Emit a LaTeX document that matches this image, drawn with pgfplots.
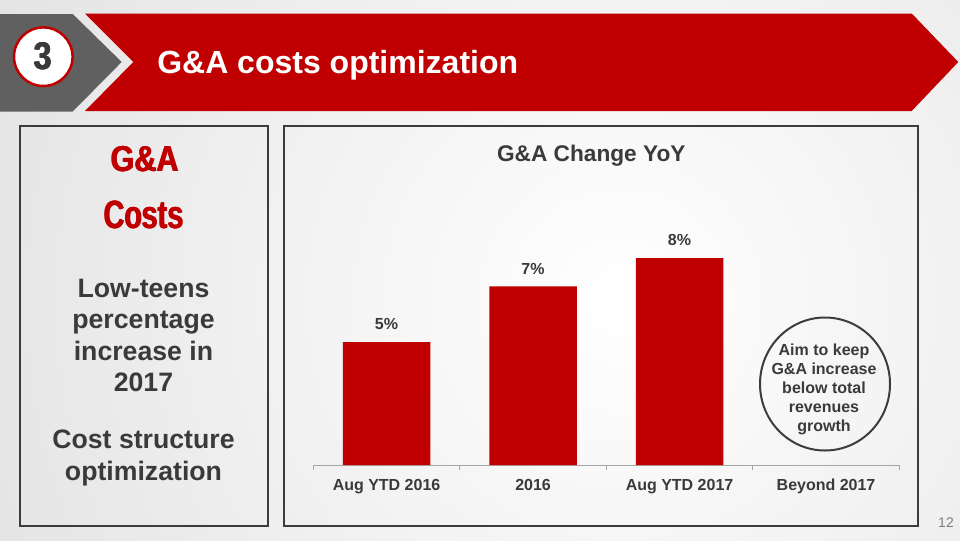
\documentclass[border=0pt]{standalone}
\usepackage{fontspec}
\setmainfont{Liberation Sans}
\usepackage{pgfplots}
\pgfplotsset{compat=1.18}
\definecolor{myred}{HTML}{C00000}
\definecolor{txt}{HTML}{3A3A3A}
\definecolor{chev}{HTML}{606060}
\definecolor{bord}{HTML}{3C3C3C}
\definecolor{axg}{HTML}{A6A6A6}
\definecolor{pgnum}{HTML}{808080}
\begin{document}
\begin{tikzpicture}[x=0.75pt,y=-0.75pt]
\useasboundingbox (0,0) rectangle (960,540);
\begin{scope}
\clip (0,0) rectangle (960,540);
\fill[black!14] (0,0) rectangle (960,540);
\shade[inner color=white, outer color=black!14] (620,300) circle (900);
\end{scope}
% header
\fill[chev] (0,14) -- (72.7,14) -- (121.7,62) -- (72.7,111.5) -- (0,111.5) -- cycle;
\fill[myred] (85,13.5) -- (911.7,13.5) -- (958.3,62) -- (911.7,111) -- (85,111) -- (133.3,62) -- cycle;
\draw[myred, line width=1.9pt, fill=white] (43.3,56.7) circle (29.3);
\foreach \dx in {-0.4,0,0.4}{
\node[txt, inner sep=0] at (43.3+\dx,56.7) {\fontsize{29}{30}\selectfont\bfseries\scalebox{0.83}[1]{3}};
\node[anchor=base, myred, inner sep=0] at (145+\dx,171.7) {\fontsize{27}{30}\selectfont\bfseries\scalebox{0.85}[1]{G\&A}};
\node[anchor=base, myred, inner sep=0] at (144+\dx,228) {\fontsize{29.5}{30}\selectfont\bfseries\scalebox{0.73}[1]{Costs}};
}
\node[anchor=base west, white, inner sep=0] at (157,73.5) {\fontsize{24}{28}\selectfont\bfseries G\&A costs optimization};
% panels
\draw[bord, line width=1.5pt] (19.5,126) rectangle (268,526);
\draw[bord, line width=1.5pt] (284,126) rectangle (917.5,526);
% left text
\node[anchor=base, txt, inner sep=0] at (143.5,297.7) {\fontsize{20}{24}\selectfont\bfseries Low-teens};
\node[anchor=base, txt, inner sep=0] at (143.5,328) {\fontsize{20}{24}\selectfont\bfseries percentage};
\node[anchor=base, txt, inner sep=0] at (143.5,360) {\fontsize{20}{24}\selectfont\bfseries increase in};
\node[anchor=base, txt, inner sep=0] at (143.5,391.7) {\fontsize{20}{24}\selectfont\bfseries 2017};
\node[anchor=base, txt, inner sep=0] at (143.5,448.3) {\fontsize{20}{24}\selectfont\bfseries Cost structure};
\node[anchor=base, txt, inner sep=0] at (143.5,480) {\fontsize{20}{24}\selectfont\bfseries optimization};
% chart title
\node[anchor=base, txt, inner sep=0] at (591.3,161.8) {\fontsize{17}{20}\selectfont\bfseries G\&A Change YoY};
% chart
\begin{scope}[x=1cm,y=1cm]
\begin{axis}[at={(234.975pt,-348.75pt)}, anchor=south west, scale only axis,
  width=439.5pt, height=194.06pt,
  xmin=-0.5, xmax=3.5, ymin=0, ymax=10,
  axis y line=none, axis x line*=bottom,
  x axis line style={axg, line width=0.75pt},
  xtick={-0.5,0.5,1.5,2.5,3.5}, x tick label as interval,
  xticklabels={Aug YTD 2016,2016,Aug YTD 2017,Beyond 2017},
  xtick align=outside, major tick length=3.75pt,
  xtick style={axg, line width=0.75pt},
  xticklabel style={font=\fontsize{12}{14}\selectfont\bfseries, text=txt, anchor=base, yshift=-15.6pt},
  ybar, bar width=65.6pt,
  nodes near coords, point meta=explicit symbolic,
  every node near coord/.append style={font=\fontsize{12}{14}\selectfont\bfseries, text=txt, inner sep=0pt, yshift=8.9pt},
  clip=false]
\addplot[fill=myred, draw=none] coordinates {(0,4.75) [5\%] (1,6.9) [7\%] (2,8.0) [8\%]};
\end{axis}
\end{scope}
% callout
\draw[bord, line width=1.5pt] (825,384) ellipse (65 and 66.5);
\node[txt, align=center, inner sep=0, font=\fontsize{12}{14.25}\selectfont\bfseries] at (824,389.5) {Aim to keep\\G\&A increase\\below total\\revenues\\growth};
\node[pgnum, inner sep=0] at (946,523) {\fontsize{10.5}{12}\selectfont 12};
\end{tikzpicture}
\end{document}
